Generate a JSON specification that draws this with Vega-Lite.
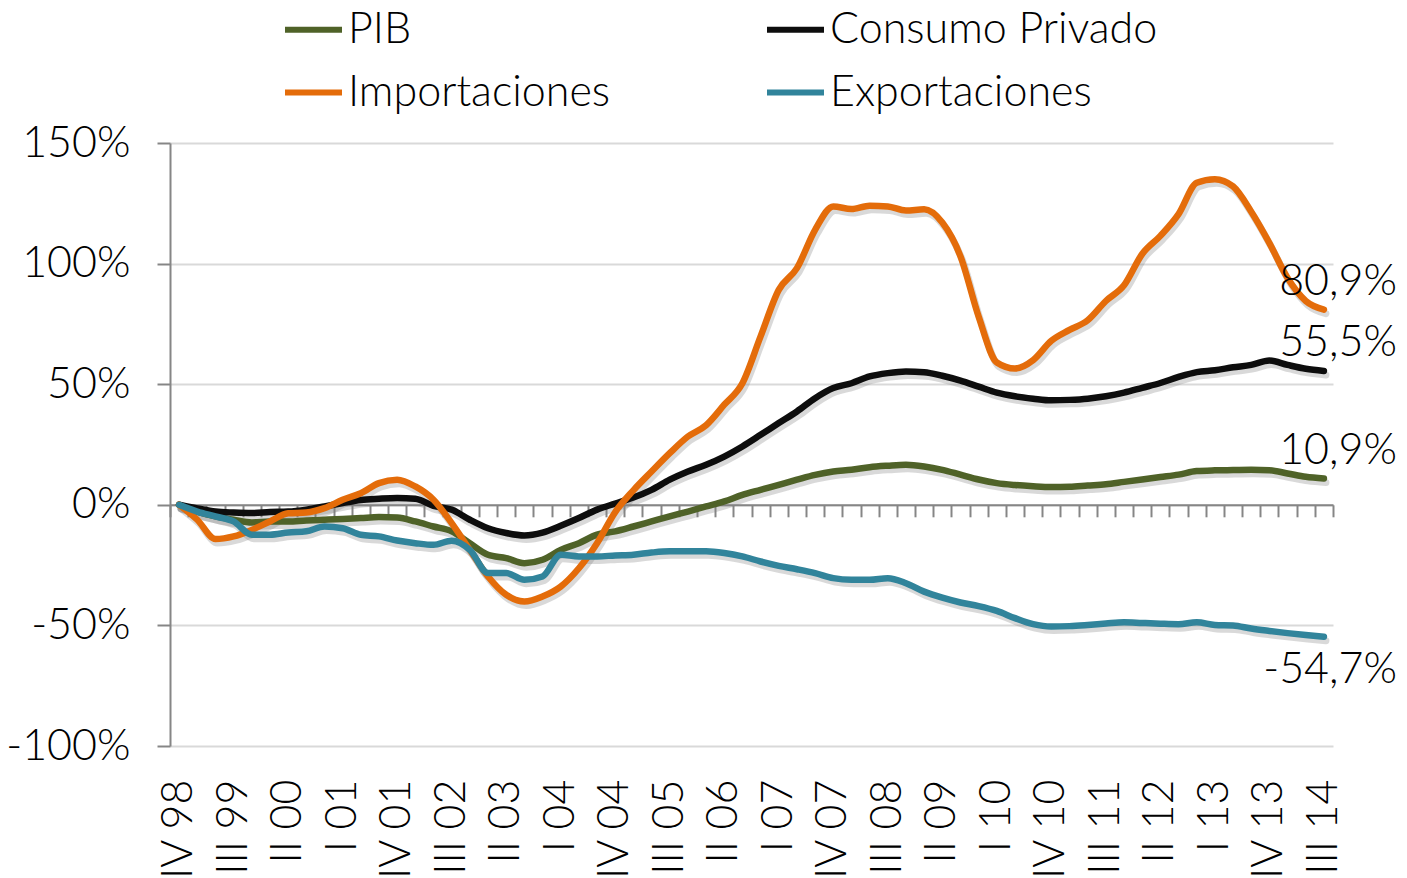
{
  "$schema": "https://vega.github.io/schema/vega-lite/v6.json",
  "width": 1163,
  "height": 603,
  "autosize": "none",
  "padding": {"left": 170, "top": 143, "right": 74, "bottom": 132},
  "background": "white",
  "config": {
    "locale": {"number": {"decimal": ",", "thousands": ".", "grouping": [3], "currency": ["", " €"], "minus": "-"}},
    "font": "Lato",
    "view": {"stroke": null},
    "axis": {"labelFont": "Lato", "labelFontWeight": 300, "labelFontSize": 43, "labelColor": "#000000"}
  },
  "data": {"values": [
    {"q": "IV 98", "PIB": 0, "Consumo Privado": 0, "Importaciones": 0, "Exportaciones": 0},
    {"q": "I 99", "PIB": -0.028, "Consumo Privado": -0.015, "Importaciones": -0.062, "Exportaciones": -0.028},
    {"q": "II 99", "PIB": -0.048, "Consumo Privado": -0.028, "Importaciones": -0.142, "Exportaciones": -0.048},
    {"q": "III 99", "PIB": -0.062, "Consumo Privado": -0.032, "Importaciones": -0.131, "Exportaciones": -0.069},
    {"q": "IV 99", "PIB": -0.073, "Consumo Privado": -0.034, "Importaciones": -0.104, "Exportaciones": -0.124},
    {"q": "I 00", "PIB": -0.069, "Consumo Privado": -0.030, "Importaciones": -0.069, "Exportaciones": -0.124},
    {"q": "II 00", "PIB": -0.069, "Consumo Privado": -0.028, "Importaciones": -0.035, "Exportaciones": -0.115},
    {"q": "III 00", "PIB": -0.065, "Consumo Privado": -0.020, "Importaciones": -0.032, "Exportaciones": -0.110},
    {"q": "IV 00", "PIB": -0.062, "Consumo Privado": -0.007, "Importaciones": -0.014, "Exportaciones": -0.090},
    {"q": "I 01", "PIB": -0.059, "Consumo Privado": 0.007, "Importaciones": 0.021, "Exportaciones": -0.097},
    {"q": "II 01", "PIB": -0.055, "Consumo Privado": 0.020, "Importaciones": 0.048, "Exportaciones": -0.124},
    {"q": "III 01", "PIB": -0.051, "Consumo Privado": 0.025, "Importaciones": 0.090, "Exportaciones": -0.131},
    {"q": "IV 01", "PIB": -0.053, "Consumo Privado": 0.028, "Importaciones": 0.104, "Exportaciones": -0.148},
    {"q": "I 02", "PIB": -0.069, "Consumo Privado": 0.025, "Importaciones": 0.076, "Exportaciones": -0.159},
    {"q": "II 02", "PIB": -0.090, "Consumo Privado": -0.004, "Importaciones": 0.021, "Exportaciones": -0.166},
    {"q": "III 02", "PIB": -0.110, "Consumo Privado": -0.020, "Importaciones": -0.076, "Exportaciones": -0.149},
    {"q": "IV 02", "PIB": -0.159, "Consumo Privado": -0.062, "Importaciones": -0.187, "Exportaciones": -0.187},
    {"q": "I 03", "PIB": -0.207, "Consumo Privado": -0.097, "Importaciones": -0.297, "Exportaciones": -0.283},
    {"q": "II 03", "PIB": -0.221, "Consumo Privado": -0.117, "Importaciones": -0.373, "Exportaciones": -0.283},
    {"q": "III 03", "PIB": -0.242, "Consumo Privado": -0.127, "Importaciones": -0.401, "Exportaciones": -0.311},
    {"q": "IV 03", "PIB": -0.228, "Consumo Privado": -0.115, "Importaciones": -0.380, "Exportaciones": -0.297},
    {"q": "I 04", "PIB": -0.187, "Consumo Privado": -0.087, "Importaciones": -0.339, "Exportaciones": -0.207},
    {"q": "II 04", "PIB": -0.159, "Consumo Privado": -0.055, "Importaciones": -0.263, "Exportaciones": -0.214},
    {"q": "III 04", "PIB": -0.124, "Consumo Privado": -0.020, "Importaciones": -0.159, "Exportaciones": -0.214},
    {"q": "IV 04", "PIB": -0.110, "Consumo Privado": 0.005, "Importaciones": -0.030, "Exportaciones": -0.210},
    {"q": "I 05", "PIB": -0.090, "Consumo Privado": 0.030, "Importaciones": 0.060, "Exportaciones": -0.207},
    {"q": "II 05", "PIB": -0.069, "Consumo Privado": 0.062, "Importaciones": 0.138, "Exportaciones": -0.198},
    {"q": "III 05", "PIB": -0.048, "Consumo Privado": 0.104, "Importaciones": 0.214, "Exportaciones": -0.193},
    {"q": "IV 05", "PIB": -0.028, "Consumo Privado": 0.138, "Importaciones": 0.283, "Exportaciones": -0.193},
    {"q": "I 06", "PIB": -0.007, "Consumo Privado": 0.166, "Importaciones": 0.330, "Exportaciones": -0.193},
    {"q": "II 06", "PIB": 0.014, "Consumo Privado": 0.200, "Importaciones": 0.415, "Exportaciones": -0.200},
    {"q": "III 06", "PIB": 0.041, "Consumo Privado": 0.242, "Importaciones": 0.504, "Exportaciones": -0.214},
    {"q": "IV 06", "PIB": 0.062, "Consumo Privado": 0.290, "Importaciones": 0.698, "Exportaciones": -0.235},
    {"q": "I 07", "PIB": 0.083, "Consumo Privado": 0.339, "Importaciones": 0.891, "Exportaciones": -0.253},
    {"q": "II 07", "PIB": 0.104, "Consumo Privado": 0.387, "Importaciones": 0.981, "Exportaciones": -0.267},
    {"q": "III 07", "PIB": 0.124, "Consumo Privado": 0.442, "Importaciones": 1.140, "Exportaciones": -0.283},
    {"q": "IV 07", "PIB": 0.138, "Consumo Privado": 0.484, "Importaciones": 1.237, "Exportaciones": -0.304},
    {"q": "I 08", "PIB": 0.145, "Consumo Privado": 0.504, "Importaciones": 1.226, "Exportaciones": -0.311},
    {"q": "II 08", "PIB": 0.156, "Consumo Privado": 0.532, "Importaciones": 1.240, "Exportaciones": -0.311},
    {"q": "III 08", "PIB": 0.162, "Consumo Privado": 0.546, "Importaciones": 1.237, "Exportaciones": -0.304},
    {"q": "IV 08", "PIB": 0.166, "Consumo Privado": 0.553, "Importaciones": 1.220, "Exportaciones": -0.325},
    {"q": "I 09", "PIB": 0.159, "Consumo Privado": 0.550, "Importaciones": 1.225, "Exportaciones": -0.360},
    {"q": "II 09", "PIB": 0.145, "Consumo Privado": 0.535, "Importaciones": 1.170, "Exportaciones": -0.385},
    {"q": "III 09", "PIB": 0.125, "Consumo Privado": 0.515, "Importaciones": 1.030, "Exportaciones": -0.405},
    {"q": "IV 09", "PIB": 0.105, "Consumo Privado": 0.490, "Importaciones": 0.780, "Exportaciones": -0.420},
    {"q": "I 10", "PIB": 0.090, "Consumo Privado": 0.465, "Importaciones": 0.590, "Exportaciones": -0.440},
    {"q": "II 10", "PIB": 0.082, "Consumo Privado": 0.450, "Importaciones": 0.565, "Exportaciones": -0.470},
    {"q": "III 10", "PIB": 0.077, "Consumo Privado": 0.440, "Importaciones": 0.600, "Exportaciones": -0.495},
    {"q": "IV 10", "PIB": 0.074, "Consumo Privado": 0.433, "Importaciones": 0.680, "Exportaciones": -0.505},
    {"q": "I 11", "PIB": 0.075, "Consumo Privado": 0.435, "Importaciones": 0.725, "Exportaciones": -0.503},
    {"q": "II 11", "PIB": 0.080, "Consumo Privado": 0.440, "Importaciones": 0.765, "Exportaciones": -0.498},
    {"q": "III 11", "PIB": 0.085, "Consumo Privado": 0.450, "Importaciones": 0.845, "Exportaciones": -0.492},
    {"q": "IV 11", "PIB": 0.095, "Consumo Privado": 0.465, "Importaciones": 0.910, "Exportaciones": -0.487},
    {"q": "I 12", "PIB": 0.105, "Consumo Privado": 0.485, "Importaciones": 1.040, "Exportaciones": -0.490},
    {"q": "II 12", "PIB": 0.115, "Consumo Privado": 0.505, "Importaciones": 1.115, "Exportaciones": -0.493},
    {"q": "III 12", "PIB": 0.125, "Consumo Privado": 0.530, "Importaciones": 1.205, "Exportaciones": -0.495},
    {"q": "IV 12", "PIB": 0.140, "Consumo Privado": 0.550, "Importaciones": 1.335, "Exportaciones": -0.487},
    {"q": "I 13", "PIB": 0.143, "Consumo Privado": 0.558, "Importaciones": 1.350, "Exportaciones": -0.498},
    {"q": "II 13", "PIB": 0.144, "Consumo Privado": 0.570, "Importaciones": 1.320, "Exportaciones": -0.500},
    {"q": "III 13", "PIB": 0.145, "Consumo Privado": 0.580, "Importaciones": 1.215, "Exportaciones": -0.513},
    {"q": "IV 13", "PIB": 0.143, "Consumo Privado": 0.598, "Importaciones": 1.085, "Exportaciones": -0.523},
    {"q": "I 14", "PIB": 0.130, "Consumo Privado": 0.580, "Importaciones": 0.940, "Exportaciones": -0.532},
    {"q": "II 14", "PIB": 0.116, "Consumo Privado": 0.564, "Importaciones": 0.845, "Exportaciones": -0.540},
    {"q": "III 14", "PIB": 0.109, "Consumo Privado": 0.555, "Importaciones": 0.809, "Exportaciones": -0.547}
  ]},
  "transform": [
    {"fold": ["PIB", "Consumo Privado", "Importaciones", "Exportaciones"], "as": ["serie", "valor"]}
  ],
  "encoding": {
    "y": {
      "field": "valor",
      "type": "quantitative",
      "scale": {"domain": [-1, 1.5], "nice": false, "zero": false},
      "axis": {
        "values": [-1, -0.5, 0, 0.5, 1, 1.5],
        "format": ".0%",
        "title": null,
        "domain": true,
        "domainColor": "#868686",
        "domainWidth": 2,
        "ticks": true,
        "tickColor": "#868686",
        "tickWidth": 2,
        "tickSize": 13,
        "labelPadding": 27,
        "grid": true,
        "gridColor": "#d9d9d9",
        "gridWidth": 2
      }
    }
  },
  "layer": [
    {
      "mark": {"type": "line", "interpolate": "monotone", "strokeWidth": 7, "color": "#808080", "opacity": 0.3, "xOffset": 2, "yOffset": 4, "strokeCap": "round", "strokeJoin": "round"},
      "encoding": {
        "x": {
          "field": "q", "type": "ordinal", "sort": null, "bandPosition": 0.5,
          "scale": {"type": "band", "paddingInner": 0, "paddingOuter": 0},
          "axis": {
            "orient": "bottom", "offset": -241.2, "title": null,
            "labels": false, "grid": false,
            "domain": true, "domainColor": "#868686", "domainWidth": 2,
            "ticks": true, "tickBand": "extent", "tickSize": 12, "tickColor": "#868686", "tickWidth": 2
          }
        },
        "detail": {"field": "serie"}
      }
    },
    {
      "mark": {"type": "line", "interpolate": "monotone", "strokeWidth": 6.5, "strokeCap": "round", "strokeJoin": "round"},
      "encoding": {
        "x": {
          "field": "q", "type": "ordinal", "sort": null, "bandPosition": 0.5,
          "scale": {"type": "band", "paddingInner": 0, "paddingOuter": 0},
          "axis": {
            "orient": "bottom", "title": null, "domain": false, "ticks": false, "grid": false,
            "labelAngle": -90, "labelPadding": 33, "labelOverlap": false,
            "values": ["IV 98", "III 99", "II 00", "I 01", "IV 01", "III 02", "II 03", "I 04", "IV 04", "III 05", "II 06", "I 07", "IV 07", "III 08", "II 09", "I 10", "IV 10", "III 11", "II 12", "I 13", "IV 13", "III 14"]
          }
        },
        "color": {
          "field": "serie",
          "type": "nominal",
          "scale": {
            "domain": ["PIB", "Consumo Privado", "Importaciones", "Exportaciones"],
            "range": ["#4F6228", "#0D0D0D", "#E46C0A", "#31849B"]
          },
          "legend": {
            "title": null,
            "orient": "none",
            "legendX": 112,
            "legendY": -145,
            "direction": "horizontal",
            "columns": 2,
            "columnPadding": 144,
            "rowPadding": 9,
            "symbolType": "stroke",
            "symbolStrokeWidth": 6,
            "symbolSize": 3249,
            "labelOffset": 3,
            "labelFont": "Lato",
            "labelFontWeight": 300,
            "labelFontSize": 43,
            "labelColor": "#000000",
            "labelLimit": 600
          }
        }
      }
    },
    {
      "transform": [{"filter": "datum.q == 'III 14' && datum.serie != 'Exportaciones'"}],
      "mark": {"type": "text", "align": "right", "baseline": "middle", "dx": 73, "dy": -28, "fontSize": 43, "fontWeight": 300, "font": "Lato", "color": "#000000"},
      "encoding": {
        "x": {"field": "q", "type": "ordinal", "sort": null, "bandPosition": 0.5, "scale": {"type": "band", "paddingInner": 0, "paddingOuter": 0}, "axis": null},
        "text": {"field": "valor", "type": "quantitative", "format": ".1%"}
      }
    },
    {
      "transform": [{"filter": "datum.q == 'III 14' && datum.serie == 'Exportaciones'"}],
      "mark": {"type": "text", "align": "right", "baseline": "middle", "dx": 73, "dy": 33, "fontSize": 43, "fontWeight": 300, "font": "Lato", "color": "#000000"},
      "encoding": {
        "x": {"field": "q", "type": "ordinal", "sort": null, "bandPosition": 0.5, "scale": {"type": "band", "paddingInner": 0, "paddingOuter": 0}, "axis": null},
        "text": {"field": "valor", "type": "quantitative", "format": ".1%"}
      }
    }
  ],
  "resolve": {"axis": {"x": "independent"}}
}
